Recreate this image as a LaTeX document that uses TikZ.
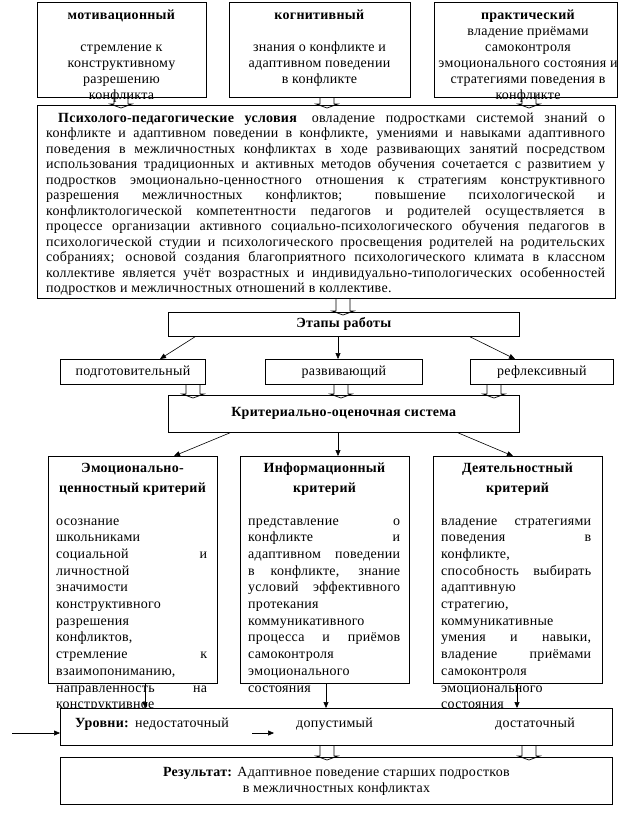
\documentclass[tikz,border=0pt]{standalone}
\usepackage{fontspec}
\setmainfont{Liberation Serif}[LetterSpace=2]
\usetikzlibrary{arrows.meta,calc}
\newcommand\JL[1]{\hbox to\hsize{\strut#1}}
\newcommand\LL[1]{\hbox to\hsize{\strut#1\hfil}}
\newcommand\CL[1]{\hbox to\hsize{\hfil\strut#1\hfil}}
\newcommand\TB[2]{\vtop{\hsize=#1\relax#2}}
\newcommand\barrow[4]{\draw[blk] let \p1=(#1.south), \p2=(#2.north) in
 ({#3pt-7pt},{\y1+#4pt}) -- ({#3pt-7pt},{\y2+1pt}) -- ({#3pt-11pt},{\y2+1pt}) -- ({#3pt},{\y2-3pt}) -- ({#3pt+11pt},{\y2+1pt}) -- ({#3pt+7pt},{\y2+1pt}) -- ({#3pt+7pt},{\y1+#4pt});}
\tikzset{
 box/.style={draw, fill=white, line width=0.8pt, inner sep=0pt, anchor=north west},
 txt/.style={inner sep=0pt, font=\fontsize{14}{16}\selectfont},
 body/.style={inner sep=0pt, font=\fontsize{14}{16.7}\selectfont, anchor=base west},
 head/.style={inner sep=0pt, font=\fontsize{14}{20}\selectfont\bfseries, anchor=base},
 thinarr/.style={-{Triangle[length=6pt,width=5pt]}, line width=0.6pt},
 blk/.style={line width=0.7pt},
}
\begin{document}
\begin{tikzpicture}[x=1pt,y=-1pt]
\fill[white] (0,0) rectangle (624,817);
\useasboundingbox (0,0) rectangle (624,817);
% top boxes
\node[box, minimum width=169pt, minimum height=95pt] (m1) at (37,2) {};
\node[txt, anchor=base] (m1t) at (121.5,19) {\TB{169pt}{\CL{\textbf{мотивационный}}\CL{}\CL{стремление к}\CL{конструктивному}\CL{разрешению}\CL{конфликта}}};
\node[box, minimum width=181pt, minimum height=95pt] (m2) at (229,2) {};
\node[txt, anchor=base] (m2t) at (319.5,19) {\TB{181pt}{\CL{\textbf{когнитивный}}\CL{}\CL{знания о конфликте и}\CL{адаптивном поведении}\CL{в конфликте}}};
\node[box, minimum width=183pt, minimum height=95pt] (m3) at (434,2) {};
\node[txt, anchor=base] (m3t) at (528,19) {\TB{183pt}{\CL{\textbf{практический}}\CL{владение приёмами}\CL{самоконтроля}\CL{эмоционального состояния и}\CL{стратегиями поведения в}\CL{конфликте}}};
% big box
\node[box, minimum width=578pt, minimum height=193pt] (pp) at (37,105) {};
\node[txt, font=\fontsize{14}{15.5}\selectfont, anchor=base west] (ppt) at (46,122) {\TB{559pt}{%
\JL{\hspace*{12pt}\textbf{Психолого-педагогические условия}\hspace{4pt} овладение подростками системой знаний о}
\JL{конфликте и адаптивном поведении в конфликте, умениями и навыками адаптивного}
\JL{поведения в межличностных конфликтах в ходе развивающих занятий посредством}
\JL{использования традиционных и активных методов обучения сочетается с развитием у}
\JL{подростков эмоционально-ценностного отношения к стратегиям конструктивного}
\JL{разрешения межличностных конфликтов; повышение психологической и}
\JL{конфликтологической компетентности педагогов и родителей осуществляется в}
\JL{процессе организации активного социально-психологического обучения педагогов в}
\JL{психологической студии и психологического просвещения родителей на родительских}
\JL{собраниях; основой создания благоприятного психологического климата в классном}
\JL{коллективе является учёт возрастных и индивидуально-типологических особенностей}
\LL{подростков и межличностных отношений в коллективе.}}};
% stages
\node[box, txt, minimum width=351pt, minimum height=24pt] (et) at (168,312) {\textbf{Этапы работы}};
\node[box, txt, minimum width=145pt, minimum height=25pt] (s1) at (60,359) {подготовительный};
\node[box, txt, minimum width=157pt, minimum height=25pt] (s2) at (265,359) {развивающий};
\node[box, txt, minimum width=143pt, minimum height=25pt] (s3) at (470,359) {рефлексивный};
\node[box, txt, minimum width=351pt, minimum height=37pt] (kr) at (168,395) {\textbf{Критериально-оценочная система}};
% criteria
\node[box, minimum width=169pt, minimum height=227pt] (em) at (48,456) {};
\node[head] (emh) at (132.5,472) {\TB{165pt}{\CL{Эмоционально-}\CL{ценностный критерий}}};
\node[body] (emb) at (56,525) {\TB{151pt}{%
\LL{осознание}
\LL{школьниками}
\JL{социальной и}
\LL{личностной}
\LL{значимости}
\LL{конструктивного}
\LL{разрешения}
\LL{конфликтов,}
\JL{стремление к}
\LL{взаимопониманию,}
\JL{направленность на}
\LL{конструктивное}}};
\node[box, minimum width=169pt, minimum height=227pt] (in) at (240,456) {};
\node[head] (inh) at (324.5,472) {\TB{165pt}{\CL{Информационный}\CL{критерий}}};
\node[body] (inb) at (248,525) {\TB{152pt}{%
\JL{представление о}
\JL{конфликте и}
\JL{адаптивном поведении}
\JL{в конфликте, знание}
\JL{условий эффективного}
\LL{протекания}
\LL{коммуникативного}
\JL{процесса и приёмов}
\LL{самоконтроля}
\LL{эмоционального}
\LL{состояния}}};
\node[box, minimum width=169pt, minimum height=227pt] (de) at (433,456) {};
\node[head] (deh) at (517.5,472) {\TB{165pt}{\CL{Деятельностный}\CL{критерий}}};
\node[body] (deb) at (441,525) {\TB{150pt}{%
\JL{владение стратегиями}
\JL{поведения в}
\LL{конфликте,}
\JL{способность выбирать}
\LL{адаптивную}
\LL{стратегию,}
\LL{коммуникативные}
\JL{умения и навыки,}
\JL{владение приёмами}
\LL{самоконтроля}
\LL{эмоционального}
\LL{состояния}}};
% levels
\node[box, minimum width=552pt, minimum height=37pt] (ur) at (60,708) {};
\node[txt, anchor=base west] (ur1) at (75,727) {\textbf{Уровни:}\hspace{6pt}недостаточный};
\node[txt, anchor=base west] (ur2) at (296,727) {допустимый};
\node[txt, anchor=base west] (ur3) at (495,727) {достаточный};
\node[box, txt, minimum width=552pt, minimum height=47pt, align=center] (rz) at (60,757) {\textbf{Результат:} Адаптивное поведение старших подростков\\в межличностных конфликтах};
% block arrows
\barrow{m1}{pp}{121}{5}
\barrow{m2}{pp}{327}{0}
\barrow{m3}{pp}{529}{5}
\barrow{pp}{et}{343}{0}
\barrow{s1}{kr}{193}{0}
\barrow{s2}{kr}{341}{0}
\barrow{s3}{kr}{494}{0}
\barrow{ur}{rz}{327}{0}
\barrow{ur}{rz}{529}{0}
% thin arrows
\draw[thinarr] ($(et.south west)+(27,0)$) -- ($(s1.north west)+(100,0)$);
\draw[thinarr] ($(et.south west)+(170,0)$) -- ($(s2.north west)+(73,0)$);
\draw[thinarr] ($(et.south west)+(302,0)$) -- ($(s3.north west)+(45,0)$);
\draw[thinarr] ($(kr.south west)+(62,0)$) -- ($(em.north west)+(126,0)$);
\draw[thinarr] ($(kr.south west)+(170,0)$) -- ($(in.north west)+(98,0)$);
\draw[thinarr] ($(kr.south west)+(290,0)$) -- ($(de.north west)+(80,0)$);
\draw[thinarr] ($(em.south west)+(97,0)$) -- ($(ur.north west)+(85,0)$);
\draw[thinarr] ($(in.south west)+(86,0)$) -- ($(ur.north west)+(266,0)$);
\draw[thinarr] ($(de.south west)+(84,0)$) -- ($(ur.north west)+(457,0)$);
\coordinate (lin) at (12,733);
\draw[thinarr] (lin) -- ($(ur.north west)+(0,25)$);
\coordinate (sa) at (252,733);
\coordinate (sb) at (274,733);
\draw[thinarr] (sa) -- (sb);
\end{tikzpicture}
\end{document}
